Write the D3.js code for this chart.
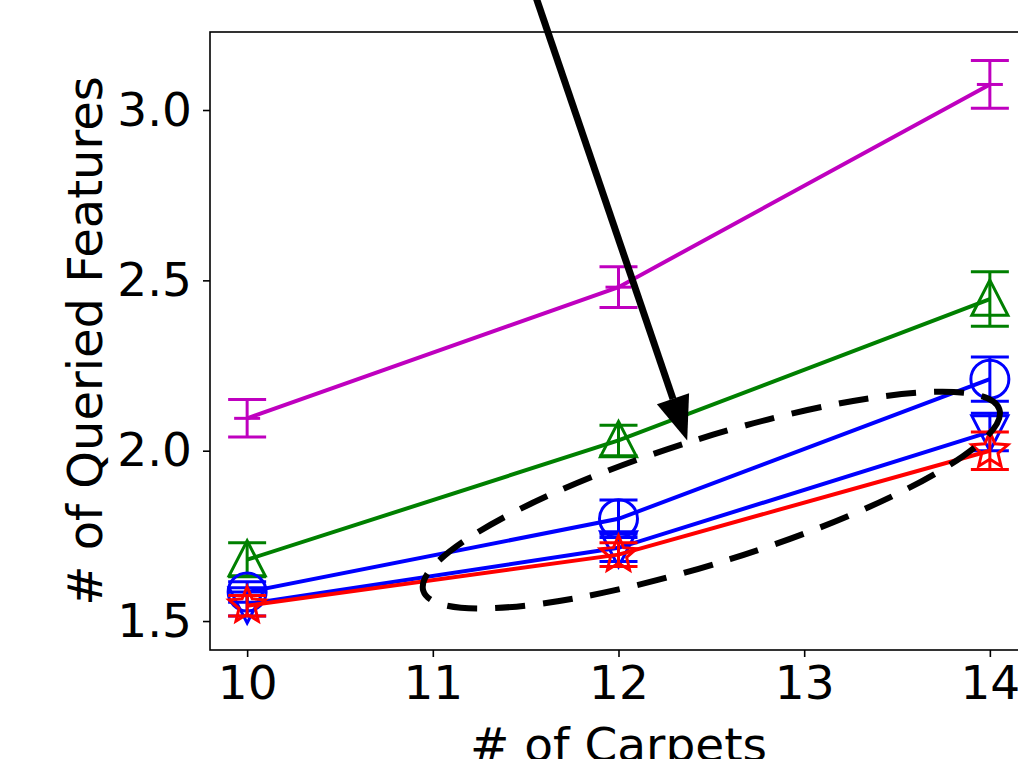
<!DOCTYPE html>
<html>
<head>
<meta charset="utf-8">
<script src="https://cdn.jsdelivr.net/npm/d3@7/dist/d3.min.js"></script>
<style>
  body { margin: 0; background: #fff; }
  svg { display: block; }
  text { font-family: "DejaVu Sans", sans-serif; }
</style>
</head>
<body>
<div id="chart"></div>
<script>
// Data
var carpets = [10, 12, 14];
var xTicks = [10, 11, 12, 13, 14];
var yTicks = [1.5, 2.0, 2.5, 3.0];

var seriesNames = ["magenta", "green", "blueCircle", "blueTri", "redStar"];
var magentaMean = [2.095, 2.48, 3.075];
var magentaErr  = [0.055, 0.06, 0.07];
var greenMean   = [1.68, 2.03, 2.445];
var greenErr    = [0.05, 0.045, 0.08];
var circleMean  = [1.585, 1.80, 2.21];
var circleErr   = [0.03, 0.055, 0.065];
var triMean     = [1.55, 1.715, 2.055];
var triErr      = [0.035, 0.04, 0.055];
var starMean    = [1.545, 1.695, 2.0];
var starErr     = [0.03, 0.035, 0.055];

var width = 1018,
    height = 759,
    margin = { left: 210, top: 32, right: -9, bottom: 109 },
    fontSize = "47px";

var series = [
  { mean: magentaMean, err: magentaErr, color: "#bf00bf", marker: "hline" },
  { mean: greenMean,   err: greenErr,   color: "#008000", marker: "triUp" },
  { mean: circleMean,  err: circleErr,  color: "#0000ff", marker: "circle" },
  { mean: triMean,     err: triErr,     color: "#0000ff", marker: "triDown" },
  { mean: starMean,    err: starErr,    color: "#ff0000", marker: "star" }
];

var x = d3.scaleLinear().domain([9.8, 14.2]).range([margin.left, width - margin.right]);
var y = d3.scaleLinear().domain([1.415, 3.229]).range([height - margin.bottom, margin.top]);

var svg = d3.select("#chart").append("svg")
    .attr("width", width)
    .attr("height", height);

svg.append("defs").append("clipPath").attr("id", "clip")
  .append("rect")
    .attr("x", margin.left).attr("y", 0)
    .attr("width", width - margin.left).attr("height", height - margin.bottom + 2);

var plot = svg.append("g").attr("clip-path", "url(#clip)");

// axes
var xAxis = svg.append("g")
    .attr("transform", "translate(0," + (height - margin.bottom) + ")")
    .call(d3.axisBottom(x).tickValues(xTicks).tickSize(7).tickPadding(9).tickFormat(d3.format("d")));
var yAxis = svg.append("g")
    .attr("transform", "translate(" + margin.left + ",0)")
    .call(d3.axisLeft(y).tickValues(yTicks).tickSize(7).tickPadding(11).tickFormat(d3.format(".1f")));

[xAxis, yAxis].forEach(function(a) {
  a.attr("font-family", null);
  a.select(".domain").remove();
  a.selectAll(".tick line").attr("stroke", "#000").attr("stroke-width", 1.6);
  a.selectAll(".tick text").attr("fill", "#000")
      .style("font-family", "'DejaVu Sans', sans-serif")
      .style("font-size", fontSize);
});

// frame
svg.append("rect")
    .attr("x", margin.left).attr("y", margin.top)
    .attr("width", width - margin.left - margin.right + 20)
    .attr("height", height - margin.bottom - margin.top)
    .attr("fill", "none").attr("stroke", "#000").attr("stroke-width", 1.6);

// axis titles, centred on the axes box
svg.append("text")
    .attr("transform", "translate(102," + ((margin.top + height - margin.bottom) / 2) + ") rotate(-90)")
    .attr("text-anchor", "middle")
    .style("font-size", "48px")
    .text("# of Queried Features");

svg.append("text")
    .attr("x", x(12))
    .attr("y", 761)
    .attr("text-anchor", "middle")
    .style("font-size", fontSize)
    .text("# of Carpets");

// lines, error bars and markers
var line = d3.line()
    .x(function(d, i) { return x(carpets[i]); })
    .y(function(d) { return y(d); });

function starPath(r) {
  var pts = [];
  for (var k = 0; k < 10; k++) {
    var rr = k % 2 === 0 ? r : r * 0.45;
    var a = -Math.PI / 2 + k * Math.PI / 5;
    pts.push([rr * Math.cos(a), rr * Math.sin(a)]);
  }
  return "M" + pts.map(function(p) { return p.join(","); }).join("L") + "Z";
}

function markerPath(type) {
  var r = 19;
  if (type === "circle") return d3.arc()({ innerRadius: 0, outerRadius: r, startAngle: 0, endAngle: 2 * Math.PI });
  if (type === "triUp") return "M0," + (-r) + "L" + (r * 0.95) + "," + (r * 0.85) + "L" + (-r * 0.95) + "," + (r * 0.85) + "Z";
  if (type === "triDown") return "M0," + r + "L" + (r * 0.95) + "," + (-r * 0.85) + "L" + (-r * 0.95) + "," + (-r * 0.85) + "Z";
  if (type === "star") return starPath(r);
  return "M-13,0L13,0";
}

series.forEach(function(s) {
  var g = plot.append("g");
  g.append("path")
      .attr("d", line(s.mean))
      .attr("fill", "none")
      .attr("stroke", s.color)
      .attr("stroke-width", 4);

  s.mean.forEach(function(m, i) {
    var cx = x(carpets[i]);
    g.append("line")
        .attr("x1", cx).attr("x2", cx)
        .attr("y1", y(m - s.err[i])).attr("y2", y(m + s.err[i]))
        .attr("stroke", s.color).attr("stroke-width", 3);
    [m - s.err[i], m + s.err[i]].forEach(function(v) {
      g.append("line")
          .attr("x1", cx - 19).attr("x2", cx + 19)
          .attr("y1", y(v)).attr("y2", y(v))
          .attr("stroke", s.color).attr("stroke-width", 3);
    });
    g.append("path")
        .attr("transform", "translate(" + cx + "," + y(m) + ")")
        .attr("d", markerPath(s.marker))
        .attr("fill", "none")
        .attr("stroke", s.color)
        .attr("stroke-width", 3);
  });
});

// annotation: dashed ellipse and arrow (in data units)
var ellipseCenter = [12.5, 1.855];
var arrowFrom = [11.55, 3.34];
var arrowTo = [12.37, 2.03];

svg.append("ellipse")
    .attr("transform", "translate(" + x(ellipseCenter[0]) + "," + y(ellipseCenter[1]) + ") rotate(-17.5)")
    .attr("rx", 302).attr("ry", 62)
    .attr("fill", "none")
    .attr("stroke", "#000")
    .attr("stroke-width", 6)
    .attr("stroke-dasharray", "30,18");

var ax0 = x(arrowFrom[0]), ay0 = y(arrowFrom[1]),
    ax1 = x(arrowTo[0]), ay1 = y(arrowTo[1]);
var ang = Math.atan2(ay1 - ay0, ax1 - ax0);
var headLen = 44, headW = 17;
var bx = ax1 - headLen * Math.cos(ang), by = ay1 - headLen * Math.sin(ang);

svg.append("line")
    .attr("x1", ax0).attr("y1", ay0)
    .attr("x2", bx).attr("y2", by)
    .attr("stroke", "#000").attr("stroke-width", 7);

svg.append("path")
    .attr("d", "M" + ax1 + "," + ay1 +
      "L" + (bx + headW * Math.sin(ang)) + "," + (by - headW * Math.cos(ang)) +
      "L" + (bx - headW * Math.sin(ang)) + "," + (by + headW * Math.cos(ang)) + "Z")
    .attr("fill", "#000");
</script>
</body>
</html>
